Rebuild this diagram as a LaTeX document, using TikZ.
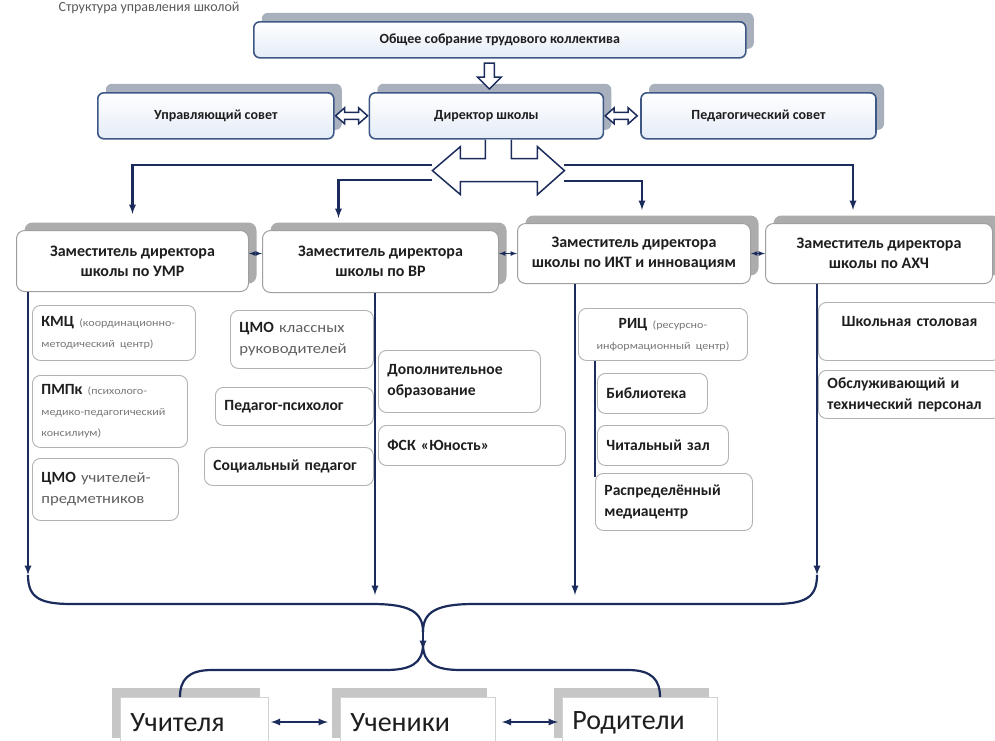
\documentclass[tikz,border=0pt]{standalone}
\usepackage{fontspec}
\setmainfont{Carlito}
\newfontfamily\widefont[FakeStretch=1.15]{Carlito}
\usetikzlibrary{positioning,calc,shadows,arrows}
\definecolor{navy}{RGB}{27,44,92}
\definecolor{boxblue}{RGB}{62,88,134}
\definecolor{topfill}{RGB}{228,236,247}
\definecolor{shblue}{RGB}{168,176,190}
\definecolor{shgray}{RGB}{172,172,172}
\definecolor{txt}{RGB}{30,30,30}
\definecolor{smalltxt}{RGB}{120,120,120}

\begin{document}
\begin{tikzpicture}[x=1pt,y=-1pt,
headbox/.style={draw=boxblue,line width=1.6pt,rounded corners=6pt,top color=white,bottom color=topfill,
  text=txt,font=\bfseries\fontsize{14}{18}\selectfont,anchor=north west,
  drop shadow={shadow xshift=8pt,shadow yshift=9pt,fill=shblue,opacity=1}},
deputy/.style={draw=gray!75,line width=1pt,rounded corners=8pt,fill=white,align=center,
  text=txt,font=\bfseries\fontsize{16}{20}\selectfont,anchor=north west,
  drop shadow={shadow xshift=8pt,shadow yshift=8pt,fill=shgray,opacity=1}},
unitbox/.style={draw=gray!60,line width=.9pt,rounded corners=8pt,fill=white,align=left,
  inner xsep=9pt,text=txt,font=\bfseries\fontsize{15.6}{21}\selectfont,anchor=north west},
grpbox/.style={draw=gray!35,line width=.8pt,fill=white,align=left,inner xsep=10pt,
  text=txt,font=\fontsize{28}{30}\selectfont,anchor=north west,
  drop shadow={shadow xshift=-8pt,shadow yshift=9pt,fill=gray!45,opacity=1}},
link/.style={draw=navy,line width=2.2pt},
blockarr/.style={draw=navy,line width=1.5pt,fill=white,line join=miter}]
\useasboundingbox (0,0) rectangle (995,740);
\newcommand{\note}[1]{{\widefont\mdseries\fontsize{10.5}{21}\selectfont\color{smalltxt}#1}}
\newcommand{\plain}[1]{{\widefont\mdseries\fontsize{14.5}{21}\selectfont\color{smalltxt!80!black}#1}}

\node[anchor=base east,font=\fontsize{14}{18}\selectfont,text=gray!70!black] (title) at (243,11) {Структура управления школой};

\node[headbox,minimum width=492,minimum height=36] (gen) at (253,21) {Общее собрание трудового коллектива};
\node[headbox,minimum width=236,minimum height=46] (upr) at (97,92) {Управляющий совет};
\node[headbox,minimum width=234,minimum height=46,right=34pt of upr] (dir) {Директор школы};
\node[headbox,minimum width=235,minimum height=46,right=36pt of dir] (ped) {Педагогический совет};

\draw[blockarr] (dir.north) ++(3,-3) -- ++(-12,-12) -- ++(7,0) -- ++(0,-14) -- ++(10,0)
  -- ++(0,14) -- ++(7,0) -- cycle;
\foreach \a in {upr,dir}
  \draw[blockarr] (\a.east) ++(1,0) -- ++(9,-8) -- ++(0,4.5) -- ++(14,0) -- ++(0,-4.5)
    -- ++(9,8) -- ++(-9,8) -- ++(0,-4.5) -- ++(-14,0) -- ++(0,4.5) -- cycle;

\coordinate (tc) at ($(dir.south)+(12,0)$);
\coordinate (al) at ($(tc)+(-66,31)$);
\coordinate (ar) at ($(tc)+(66,31)$);
\draw[blockarr] (tc) ++(-13,0) -- ++(0,19) -- ++(-25,0) -- ++(0,-12) -- ++(-28,24) -- ++(28,24)
  -- ++(0,-13) -- ++(77,0) -- ++(0,13) -- ++(27,-24) -- ++(-27,-24) -- ++(0,12) -- ++(-26,0) -- ++(0,-19);

\node[deputy,minimum width=232,minimum height=61] (z1) at (16,230) {Заместитель директора\\школы по УМР};
\node[deputy,minimum width=236,minimum height=62] (z2) at (262,230) {Заместитель директора\\школы по ВР};
\node[deputy,minimum width=233,minimum height=60] (z3) at (517,223) {Заместитель директора\\школы по ИКТ и инновациям};
\node[deputy,minimum width=227,minimum height=60] (z4) at (765,223) {Заместитель директора\\школы по АХЧ};

\draw[link,-latex] ($(al)+(0,-6)$) -| ($(z1.north)+(0,-16)$);
\draw[link,-latex] ($(al)+(0,9)$) -| ($(z2.north)+(-42,-12)$);
\draw[link,-latex] ($(ar)+(0,10)$) -| ($(z3.north)+(8,-13)$);
\draw[link,-latex] ($(ar)+(0,-6)$) -| ($(z4.north)+(-26,-13)$);
\foreach \a/\b in {z1/z2,z2/z3,z3/z4}
  \draw[link,line width=1.2pt,latex-latex] (\a.east |- z3.west) -- (\b.west |- z3.west);

\coordinate (b1) at (28,575);
\coordinate (b2) at (375,595);
\coordinate (b3) at (575,595);
\coordinate (b4) at (817,575);
\foreach \z/\b in {z1/b1,z2/b2,z3/b3,z4/b4}
  \draw[link,-latex] (\b |- \z.south) -- (\b);

\node[unitbox,text width=145,minimum height=55] (kmc) at (32,305) {КМЦ \note{(координационно-}\\\note{методический центр)}};
\node[unitbox,text width=137,minimum height=72] (pmpk) at (32,375) {ПМПк \note{(психолого-}\\\note{медико-педагогический}\\\note{консилиум)}};
\node[unitbox,text width=128,minimum height=62] (cmou) at (32,458) {ЦМО \plain{учителей-}\\\plain{предметников}};
\node[unitbox,text width=125,minimum height=58] (cmok) at (230,310) {ЦМО \plain{классных}\\\plain{руководителей}};
\node[unitbox,text width=140,minimum height=38] (psy) at (215,387) {Педагог-психолог};
\node[unitbox,text width=151,minimum height=38] (soc) at (204,447) {Социальный педагог};
\node[unitbox,text width=144,minimum height=62] (dop) at (378,350) {Дополнительное\\образование};
\node[unitbox,text width=169,minimum height=40] (fsk) at (378,425) {ФСК «Юность»};
\node[unitbox,text width=151,minimum height=52,align=center] (ric) at (578,308) {РИЦ \note{(ресурсно-}\\\note{информационный центр)}};
\node[unitbox,text width=92,minimum height=40] (lib) at (597,373) {Библиотека};
\node[unitbox,text width=113,minimum height=40] (read) at (597,425) {Читальный зал};
\node[unitbox,text width=139,minimum height=57] (rasp) at (595,473) {Распределённый\\медиацентр};
\node[unitbox,text width=164,minimum height=58,align=center] (food) at (818,302) {Школьная столовая\\\mbox{}};
\node[unitbox,text width=164,minimum height=48] (serv) at (818,370) {Обслуживающий и\\технический персонал};
\draw[navy,line width=1.5pt] ($(ric.south west)+(17,0)$) -- ($(rasp.north west)+(0,4)$);

\node[grpbox,minimum height=50,text width=128] (uch) at (120,697) {Учителя};
\node[grpbox,minimum height=50,text width=135] (stu) at (340,697) {Ученики};
\node[grpbox,minimum height=50,text width=135] (par) at (562,697) {Родители};
\draw[link,latex-latex,shorten <=2pt,shorten >=12pt] (uch.east |- 0,722) -- (stu.west |- 0,722);
\draw[link,latex-latex,shorten <=6pt,shorten >=4pt] (stu.east |- 0,722) -- (par.west |- 0,722);

\coordinate (ju) at (423,632);
\coordinate (jm) at (423,644);
\draw[link] (b1) .. controls (28,598) and (40,604) .. (72,604) -- (372,604)
  .. controls (410,604) and (423,612) .. (ju);
\draw[link] (b4) .. controls (817,598) and (805,604) .. (773,604) -- (474,604)
  .. controls (436,604) and (423,612) .. (ju);
\draw[link,-latex] (ju) -- (423,650);
\draw[link] (jm) .. controls (423,664) and (410,670) .. (385,670) -- (212,670)
  .. controls (188,670) and (180,680) .. ($(uch.north west)+(60,0)$);
\draw[link] (jm) .. controls (423,664) and (436,670) .. (461,670) -- (628,670)
  .. controls (652,670) and (660,680) .. ($(par.north west)+(98,0)$);
\end{tikzpicture}
\end{document}
